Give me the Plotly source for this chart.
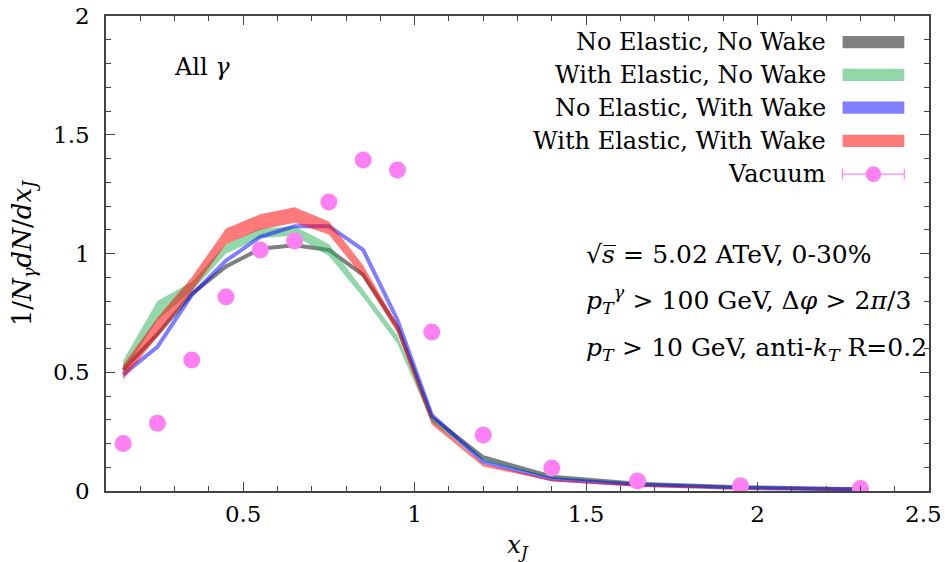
import plotly.graph_objects as go

# x_J bin centres shared by every curve
x_j = [0.15, 0.25, 0.35, 0.45, 0.55, 0.65, 0.75, 0.85, 0.95, 1.05, 1.2, 1.4, 1.65, 1.95, 2.3]

# No Elastic, No Wake (narrow band, drawn as a line)
no_el_no_wake = [0.51, 0.66, 0.83, 0.945, 1.02, 1.035, 1.015, 0.91, 0.69, 0.31, 0.142, 0.06, 0.031, 0.016, 0.007]

# With Elastic, No Wake (band)
el_no_wake_lo = [0.50, 0.72, 0.84, 1.00, 1.065, 1.075, 0.99, 0.815, 0.62, 0.29, 0.125, 0.053, 0.028, 0.014, 0.005]
el_no_wake_hi = [0.55, 0.80, 0.88, 1.04, 1.105, 1.115, 1.04, 0.85, 0.655, 0.31, 0.138, 0.060, 0.033, 0.018, 0.008]

# No Elastic, With Wake (narrow band, drawn as a line)
no_el_wake = [0.49, 0.607, 0.825, 0.97, 1.07, 1.115, 1.115, 1.015, 0.72, 0.32, 0.123, 0.049, 0.026, 0.013, 0.006]

# With Elastic, With Wake (band)
el_wake_lo = [0.47, 0.65, 0.84, 1.04, 1.10, 1.13, 1.08, 0.90, 0.665, 0.28, 0.103, 0.041, 0.018, 0.008, 0.003]
el_wake_hi = [0.53, 0.73, 0.90, 1.105, 1.165, 1.195, 1.135, 0.95, 0.70, 0.30, 0.115, 0.048, 0.024, 0.012, 0.006]

# Vacuum reference points
vac_x = [0.15, 0.25, 0.35, 0.45, 0.55, 0.65, 0.75, 0.85, 0.95, 1.05, 1.2, 1.4, 1.65, 1.95, 2.3]
vac_y = [0.20, 0.285, 0.552, 0.817, 1.015, 1.053, 1.217, 1.394, 1.352, 0.669, 0.236, 0.097, 0.042, 0.022, 0.011]

x_ticks = [0.5, 1.0, 1.5, 2.0, 2.5]
# the last label sits at the page edge and is drawn separately, right-aligned
x_tick_text = ["0.5", "1", "1.5", "2", ""]
x_last_label = "2.5"
y_ticks = [0, 0.5, 1.0, 1.5, 2.0]
y_tick_text = ["0", "0.5", "1", "1.5", "2"]

legend_names = ["No Elastic, No Wake", "With Elastic, No Wake",
                "No Elastic, With Wake", "With Elastic, With Wake"]

FONT = "DejaVu Serif"
FS = 24
FS_NOTE = 25
FS_TICK = 23
C_GRAY = "rgba(0,0,0,0.5)"
C_GREEN = "rgba(35,175,85,0.5)"
C_BLUE = "rgba(0,0,255,0.5)"
C_RED = "rgba(255,0,0,0.52)"
C_VAC = "#ff80f4"
colors = [C_GRAY, C_GREEN, C_BLUE, C_RED]
SP = "\u2004"  # spacing around relation signs

W, H = 945, 562
M_L, M_R, M_T, M_B = 106, 16, 16, 71

fig = go.Figure()


def band(lo, hi, color):
    return go.Scatter(x=x_j + x_j[::-1], y=hi + lo[::-1], fill="toself",
                      fillcolor=color, line=dict(width=0), mode="lines",
                      hoverinfo="skip", showlegend=False)


fig.add_trace(go.Scatter(x=x_j, y=no_el_no_wake, mode="lines",
                         line=dict(color=C_GRAY, width=4), showlegend=False))
fig.add_trace(band(el_no_wake_lo, el_no_wake_hi, C_GREEN))
fig.add_trace(go.Scatter(x=x_j, y=no_el_wake, mode="lines",
                         line=dict(color=C_BLUE, width=4), showlegend=False))
fig.add_trace(band(el_wake_lo, el_wake_hi, C_RED))
fig.add_trace(go.Scatter(x=vac_x, y=vac_y, mode="markers",
                         marker=dict(color=C_VAC, size=17, line=dict(width=0)),
                         showlegend=False))

# hand-built key: right-aligned labels with swatches on the right
row_y = [0.945, 0.876, 0.807, 0.737, 0.667]
txt_x = 0.877
sw_x0, sw_x1 = 0.895, 0.970
sw_h = 0.013
annotations = []
shapes = []
for name, col, yy in zip(legend_names + ["Vacuum"], colors + [None], row_y):
    annotations.append(dict(text=name, x=txt_x, y=yy, xref="paper", yref="paper",
                            xanchor="right", yanchor="middle", showarrow=False,
                            font=dict(family=FONT, size=FS, color="black")))
    if col is not None:
        shapes.append(dict(type="rect", xref="paper", yref="paper",
                           x0=sw_x0, x1=sw_x1, y0=yy - sw_h, y1=yy + sw_h,
                           fillcolor=col, line=dict(width=0)))
    else:
        shapes.append(dict(type="line", xref="paper", yref="paper",
                           x0=sw_x0, x1=sw_x1, y0=yy, y1=yy,
                           line=dict(color=C_VAC, width=1.2)))
        for xe in (sw_x0, sw_x1):
            shapes.append(dict(type="line", xref="paper", yref="paper",
                               x0=xe, x1=xe, y0=yy - 0.011, y1=yy + 0.011,
                               line=dict(color=C_VAC, width=1.2)))
        xc = (sw_x0 + sw_x1) / 2
        shapes.append(dict(type="circle", xref="paper", yref="paper",
                           x0=xc - 0.0095, x1=xc + 0.0095, y0=yy - 0.0165, y1=yy + 0.0165,
                           fillcolor=C_VAC, line=dict(width=0)))

# final x tick label, right-aligned to the page edge
plot_w = W - M_L - M_R
plot_h = H - M_T - M_B
annotations.append(dict(text=x_last_label, x=1 + (M_R - 1) / plot_w, y=-23 / plot_h,
                        xref="paper", yref="paper", xanchor="right", yanchor="middle",
                        showarrow=False,
                        font=dict(family=FONT, size=FS_TICK, color="black")))

text_font = dict(family=FONT, size=FS_NOTE, color="black")
annotations += [
    dict(text="All <i>γ</i>", x=0.08, y=0.893, xref="paper", yref="paper",
         xanchor="left", yanchor="middle", showarrow=False,
         font=dict(family=FONT, size=FS, color="black")),
    dict(text=f"√<i>s\u0305</i>{SP}={SP}5.02 ATeV, 0-30%",
         x=0.581, y=0.497, xref="paper", yref="paper",
         xanchor="left", yanchor="middle", showarrow=False, font=text_font),
    dict(text=f"<i>p</i><sub><i>T</i></sub><sup><i>γ</i></sup>{SP}>{SP}100 GeV, Δ<i>φ</i>{SP}>{SP}2<i>π</i>/3",
         x=0.581, y=0.402, xref="paper", yref="paper",
         xanchor="left", yanchor="middle", showarrow=False, font=text_font),
    dict(text=f"<i>p<sub>T</sub></i>{SP}>{SP}10 GeV, anti-<i>k<sub>T</sub></i> R=0.2",
         x=0.581, y=0.300, xref="paper", yref="paper",
         xanchor="left", yanchor="middle", showarrow=False, font=text_font),
]

axis_common = dict(showline=True, linecolor="#444", linewidth=1.5, mirror="allticks",
                   ticks="inside", ticklen=9, tickwidth=1.2, tickcolor="#444",
                   showgrid=False, zeroline=False, automargin=False,
                   ticklabeloverflow="allow",
                   tickfont=dict(family=FONT, size=FS_TICK, color="black"))

fig.update_layout(
    width=W, height=H,
    margin=dict(l=M_L, r=M_R, t=M_T, b=M_B),
    plot_bgcolor="white", paper_bgcolor="white",
    showlegend=False,
    annotations=annotations, shapes=shapes,
    xaxis=dict(range=[0.1, 2.5], tickvals=x_ticks, ticktext=x_tick_text,
               ticklabelstandoff=2,
               minor=dict(dtick=0.1, tick0=0, ticks="inside", ticklen=5, tickcolor="#444"),
               title=dict(text="<i>x<sub>J</sub></i>", standoff=14,
                          font=dict(family=FONT, size=FS, color="black")),
               **axis_common),
    yaxis=dict(range=[0, 2], tickvals=y_ticks, ticktext=y_tick_text,
               ticklabelstandoff=10,
               minor=dict(dtick=0.1, tick0=0, ticks="inside", ticklen=5, tickcolor="#444"),
               title=dict(text="1/<i>N<sub>γ</sub>dN</i>/<i>dx<sub>J</sub></i>", standoff=14,
                          font=dict(family=FONT, size=26, color="black")),
               **axis_common),
)

fig.write_html("out.html")
